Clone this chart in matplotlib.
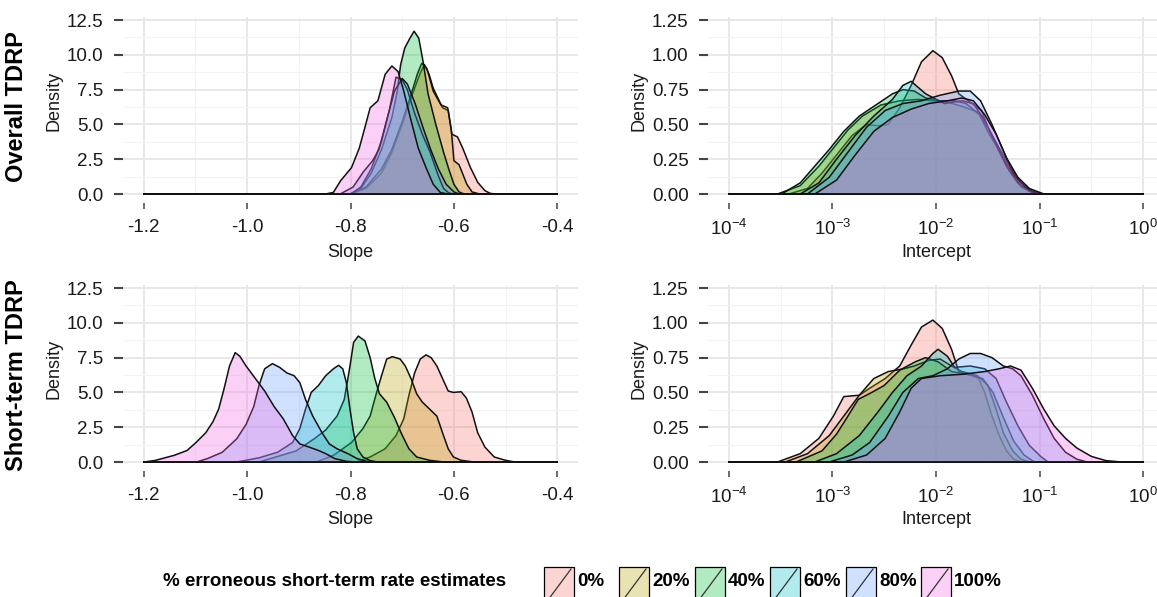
import matplotlib
matplotlib.use('Agg')
import matplotlib.pyplot as plt
from matplotlib.patches import Rectangle
from matplotlib.lines import Line2D
from matplotlib.colors import to_rgba
from matplotlib.ticker import FixedLocator, FixedFormatter, NullFormatter
from matplotlib import font_manager
import numpy as np

# ---------------- data ----------------
groups = ['0%', '20%', '40%', '60%', '80%', '100%']
colors = ['#F8766D', '#B79F00', '#00BA38', '#00BFC4', '#619CFF', '#F564E3']
legend_title = '% erroneous short-term rate estimates'
row_titles = ['Overall TDRP', 'Short-term TDRP']

slope_range = [-1.2, -0.4]
slope_ticks = [-1.2, -1.0, -0.8, -0.6, -0.4]
slope_yticks = [0.0, 2.5, 5.0, 7.5, 10.0, 12.5]
log_int_range = [-4, 0]
log_int_ticks = [-4, -3, -2, -1, 0]
int_yticks = [0.00, 0.25, 0.50, 0.75, 1.00, 1.25]

# Overall TDRP - slope densities (x, density)
overall_slope_x = [
    [-0.80, -0.77, -0.74, -0.72, -0.70, -0.68, -0.665, -0.657, -0.648, -0.64, -0.622, -0.611, -0.604, -0.593, -0.583, -0.568, -0.554, -0.540, -0.530, -0.520],
    [-0.80, -0.77, -0.74, -0.72, -0.70, -0.68, -0.67, -0.662, -0.652, -0.64, -0.625, -0.612, -0.605, -0.60, -0.59, -0.575, -0.565, -0.55],
    [-0.80, -0.78, -0.76, -0.74, -0.72, -0.71, -0.703, -0.695, -0.685, -0.677, -0.668, -0.66, -0.65, -0.635, -0.62, -0.61, -0.60, -0.59, -0.58],
    [-0.80, -0.78, -0.76, -0.74, -0.725, -0.712, -0.70, -0.69, -0.676, -0.66, -0.647, -0.63, -0.62, -0.61, -0.60],
    [-0.82, -0.795, -0.775, -0.757, -0.745, -0.73, -0.715, -0.70, -0.69, -0.675, -0.66, -0.645, -0.63, -0.615, -0.60, -0.59],
    [-0.848, -0.833, -0.819, -0.798, -0.783, -0.772, -0.762, -0.747, -0.733, -0.72, -0.708, -0.697, -0.683, -0.669, -0.654, -0.64, -0.626, -0.611],
]
overall_slope_y = [
    [0, 0.4, 1.5, 3.0, 5.0, 7.2, 8.7, 9.3, 8.6, 7.6, 6.2, 6.0, 4.3, 4.1, 3.3, 1.9, 0.84, 0.24, 0.05, 0],
    [0, 0.5, 1.8, 3.2, 5.2, 7.5, 8.7, 9.4, 9.0, 7.4, 6.4, 6.2, 4.6, 2.4, 2.1, 0.7, 0.15, 0],
    [0, 0.4, 1.5, 3.2, 5.5, 7.3, 9.3, 10.5, 11.2, 11.7, 11.2, 9.6, 7.2, 5.0, 3.0, 1.8, 0.7, 0.15, 0],
    [0, 0.5, 1.8, 3.8, 6.0, 8.4, 8.2, 7.5, 5.8, 4.2, 3.1, 1.3, 0.4, 0.08, 0],
    [0, 0.5, 1.6, 2.4, 3.2, 5.3, 7.4, 8.3, 7.9, 6.5, 4.8, 3.2, 1.8, 0.7, 0.15, 0],
    [0, 0.12, 0.96, 1.9, 3.3, 4.8, 6.2, 6.7, 8.6, 9.2, 8.8, 7.4, 5.3, 3.3, 1.9, 0.7, 0.1, 0],
]

# Short-term TDRP - slope densities
short_slope_x = [
    [-0.790, -0.762, -0.733, -0.712, -0.697, -0.687, -0.676, -0.665, -0.654, -0.644, -0.633, -0.622, -0.611, -0.601, -0.586, -0.576, -0.565, -0.554, -0.540, -0.522, -0.500, -0.482],
    [-0.866, -0.833, -0.798, -0.776, -0.762, -0.751, -0.740, -0.730, -0.719, -0.704, -0.694, -0.683, -0.672, -0.661, -0.647, -0.633, -0.622, -0.611, -0.601, -0.586, -0.561],
    [-0.977, -0.905, -0.869, -0.848, -0.826, -0.812, -0.801, -0.794, -0.785, -0.772, -0.762, -0.753, -0.744, -0.730, -0.715, -0.701, -0.687, -0.672, -0.647, -0.619],
    [-1.02, -0.977, -0.941, -0.912, -0.898, -0.887, -0.876, -0.862, -0.848, -0.833, -0.823, -0.815, -0.808, -0.801, -0.794, -0.787, -0.776, -0.762, -0.747],
    [-1.098, -1.077, -1.048, -1.020, -1.002, -0.987, -0.977, -0.966, -0.951, -0.937, -0.923, -0.909, -0.898, -0.887, -0.873, -0.855, -0.841, -0.826, -0.805, -0.787, -0.769, -0.755],
    [-1.199, -1.177, -1.141, -1.116, -1.098, -1.080, -1.066, -1.055, -1.045, -1.034, -1.023, -1.014, -1.002, -0.984, -0.966, -0.948, -0.930, -0.912, -0.898, -0.880, -0.862, -0.848, -0.830, -0.808, -0.790],
]
short_slope_y = [
    [0, 0.36, 0.95, 1.9, 3.1, 4.8, 6.4, 7.4, 7.7, 7.5, 6.9, 6.0, 5.1, 5.0, 5.05, 4.6, 3.6, 2.1, 1.07, 0.36, 0.12, 0],
    [0, 0.48, 1.4, 2.4, 3.3, 4.8, 6.2, 7.4, 7.57, 7.4, 6.9, 6.0, 4.9, 4.3, 3.8, 3.3, 2.1, 0.95, 0.36, 0.12, 0],
    [0, 0.8, 1.7, 2.3, 3.3, 4.5, 6.9, 8.6, 9.05, 8.7, 7.5, 6.0, 4.9, 4.3, 3.2, 2.0, 0.95, 0.36, 0.12, 0],
    [0, 0.3, 0.7, 1.4, 2.4, 3.8, 5.0, 5.5, 6.2, 6.7, 6.95, 6.7, 5.7, 3.8, 2.1, 0.95, 0.36, 0.1, 0],
    [0, 0.24, 0.7, 1.67, 2.7, 4.0, 5.5, 6.7, 7.07, 6.8, 6.4, 6.2, 5.7, 4.5, 3.3, 2.1, 1.3, 0.95, 0.6, 0.24, 0.05, 0],
    [0, 0.12, 0.48, 0.83, 1.43, 2.1, 2.9, 3.8, 5.2, 6.9, 7.86, 7.6, 6.9, 6.0, 5.1, 4.0, 3.1, 1.9, 1.3, 1.07, 0.83, 0.6, 0.24, 0.05, 0],
]

# Overall TDRP - intercept densities (x given as log10 of intercept)
overall_int_log10x = [
    [-3.42, -3.24, -3.10, -2.96, -2.81, -2.67, -2.56, -2.46, -2.35, -2.24, -2.14, -2.03, -1.94, -1.85, -1.78, -1.67, -1.56, -1.50, -1.39, -1.28, -1.18, -1.07, -1.0],
    [-3.53, -3.31, -3.13, -2.99, -2.85, -2.71, -2.53, -2.35, -2.17, -2.03, -1.89, -1.75, -1.60, -1.50, -1.39, -1.28, -1.18, -1.07, -0.96],
    [-3.49, -3.31, -3.17, -3.03, -2.89, -2.74, -2.60, -2.42, -2.32, -2.21, -2.10, -1.96, -1.82, -1.71, -1.58, -1.50, -1.39, -1.28, -1.18, -1.07, -1.0],
    [-3.31, -3.13, -2.96, -2.78, -2.60, -2.42, -2.32, -2.24, -2.10, -1.92, -1.75, -1.64, -1.53, -1.42, -1.32, -1.21, -1.10, -1.0],
    [-3.24, -3.03, -2.85, -2.67, -2.49, -2.32, -2.14, -1.96, -1.78, -1.67, -1.57, -1.46, -1.35, -1.25, -1.14, -1.03],
    [-3.17, -2.96, -2.78, -2.60, -2.42, -2.24, -2.07, -1.89, -1.75, -1.64, -1.53, -1.42, -1.32, -1.21, -1.10, -0.96],
]
overall_int_y = [
    [0, 0.04, 0.15, 0.28, 0.42, 0.5, 0.49, 0.5, 0.62, 0.78, 0.95, 1.03, 0.98, 0.85, 0.72, 0.66, 0.6, 0.48, 0.3, 0.15, 0.05, 0.01, 0],
    [0, 0.06, 0.2, 0.33, 0.46, 0.56, 0.64, 0.67, 0.68, 0.67, 0.66, 0.63, 0.59, 0.48, 0.33, 0.19, 0.08, 0.02, 0],
    [0, 0.08, 0.2, 0.32, 0.45, 0.56, 0.63, 0.72, 0.75, 0.74, 0.69, 0.67, 0.67, 0.65, 0.57, 0.45, 0.31, 0.17, 0.06, 0.01, 0],
    [0, 0.08, 0.25, 0.42, 0.56, 0.68, 0.78, 0.81, 0.72, 0.65, 0.67, 0.65, 0.53, 0.36, 0.2, 0.08, 0.02, 0],
    [0, 0.12, 0.3, 0.48, 0.6, 0.65, 0.67, 0.71, 0.74, 0.74, 0.67, 0.5, 0.31, 0.14, 0.05, 0],
    [0, 0.1, 0.28, 0.45, 0.55, 0.61, 0.65, 0.67, 0.69, 0.67, 0.57, 0.43, 0.26, 0.12, 0.04, 0],
]

# Short-term TDRP - intercept densities (log10 x)
short_int_log10x = [
    [-3.53, -3.31, -3.13, -2.99, -2.89, -2.74, -2.64, -2.49, -2.35, -2.24, -2.14, -2.03, -1.94, -1.85, -1.78, -1.67, -1.59, -1.53, -1.46, -1.39, -1.32, -1.25, -1.18],
    [-3.455, -3.24, -3.03, -2.89, -2.74, -2.60, -2.46, -2.31, -2.21, -2.07, -1.96, -1.85, -1.75, -1.60, -1.50, -1.42, -1.35, -1.26, -1.18, -1.10],
    [-3.35, -3.10, -2.96, -2.85, -2.75, -2.62, -2.50, -2.35, -2.20, -2.10, -1.98, -1.85, -1.70, -1.55, -1.45, -1.35, -1.25, -1.15, -1.05],
    [-3.17, -2.96, -2.74, -2.56, -2.42, -2.28, -2.14, -2.03, -1.98, -1.89, -1.82, -1.67, -1.53, -1.42, -1.32, -1.21, -1.10, -0.99, -0.92],
    [-3.03, -2.81, -2.64, -2.46, -2.32, -2.17, -2.03, -1.89, -1.78, -1.67, -1.57, -1.46, -1.35, -1.26, -1.18, -1.07, -0.96, -0.86, -0.75, -0.64, -0.54],
    [-2.89, -2.67, -2.49, -2.35, -2.24, -2.14, -1.96, -1.75, -1.53, -1.39, -1.28, -1.18, -1.07, -0.96, -0.86, -0.75, -0.64, -0.50, -0.36, -0.21],
]
short_int_y = [
    [0, 0.06, 0.17, 0.33, 0.47, 0.48, 0.53, 0.6, 0.69, 0.84, 0.97, 1.02, 0.96, 0.81, 0.65, 0.63, 0.6, 0.5, 0.33, 0.19, 0.08, 0.02, 0],
    [0, 0.06, 0.19, 0.33, 0.48, 0.6, 0.65, 0.67, 0.69, 0.73, 0.74, 0.69, 0.65, 0.62, 0.55, 0.38, 0.21, 0.08, 0.02, 0],
    [0, 0.08, 0.2, 0.33, 0.45, 0.5, 0.55, 0.66, 0.72, 0.75, 0.72, 0.65, 0.63, 0.6, 0.5, 0.32, 0.15, 0.05, 0],
    [0, 0.06, 0.19, 0.36, 0.5, 0.62, 0.69, 0.78, 0.81, 0.76, 0.68, 0.69, 0.67, 0.6, 0.43, 0.26, 0.12, 0.04, 0],
    [0, 0.05, 0.14, 0.33, 0.5, 0.6, 0.62, 0.67, 0.74, 0.78, 0.78, 0.75, 0.69, 0.67, 0.62, 0.48, 0.31, 0.17, 0.07, 0.02, 0],
    [0, 0.05, 0.17, 0.36, 0.53, 0.6, 0.62, 0.63, 0.65, 0.67, 0.69, 0.66, 0.53, 0.38, 0.26, 0.17, 0.1, 0.04, 0.01, 0],
]

# ---------------- style ----------------
W, H = 1157, 597
FONT = 'Liberation Sans'
plt.rcParams['font.family'] = [FONT, 'DejaVu Sans']
plt.rcParams['mathtext.default'] = 'regular'
FILL_ALPHA = 0.3
TICK_FS = 13.5
LABEL_FS = 13
TEXT_COL = '#1a1a1a'

fig = plt.figure(figsize=(W / 100, H / 100), dpi=100)


def px_axes(left, top, right, bottom):
    return fig.add_axes([left / W, 1 - bottom / H, (right - left) / W, (bottom - top) / H])


def style_axes(ax):
    for s in ax.spines.values():
        s.set_visible(False)
    ax.spines['bottom'].set_position(('outward', 5.8))
    ax.set_axisbelow(True)
    ax.grid(which='major', color='#E6E6E6', lw=1.3)
    ax.grid(which='minor', color='#F3F3F3', lw=0.8)
    ax.tick_params(axis='x', which='major', length=4.5, width=1.1, color='#444444',
                   pad=6.5, labelsize=TICK_FS, labelcolor=TEXT_COL)
    ax.tick_params(axis='y', which='major', length=6.5, width=1.5, color='#444444',
                   pad=7.5, labelsize=TICK_FS, labelcolor=TEXT_COL)
    ax.tick_params(which='minor', length=0)


def draw_densities(ax, xs_list, ys_list, lo, hi, logx=False):
    for i, (xs, ys) in enumerate(zip(xs_list, ys_list)):
        xx = np.array([lo] + list(xs) + [hi], dtype=float)
        yy = np.array([0] + list(ys) + [0], dtype=float)
        if logx:
            xx = 10 ** xx
        ax.fill(xx, yy, facecolor=to_rgba(colors[i], FILL_ALPHA), edgecolor='#111111',
                lw=1.1, joinstyle='round', zorder=2 + i * 0.01)


rows_top = [17, 285]
row_h = 178.4
for r in range(2):
    top = rows_top[r]
    bot = top + row_h
    # slope panel
    axL = px_axes(123, top, 578, bot)
    style_axes(axL)
    sx = overall_slope_x if r == 0 else short_slope_x
    sy = overall_slope_y if r == 0 else short_slope_y
    draw_densities(axL, sx, sy, slope_range[0], slope_range[1])
    axL.set_xlim(-1.24, -0.36)
    axL.set_ylim(-0.1, 12.72)
    axL.set_xticks(slope_ticks)
    axL.set_xticklabels([f'{t:.1f}' for t in slope_ticks])
    axL.set_yticks(slope_yticks)
    axL.set_yticklabels([f'{t:.1f}' for t in slope_yticks])
    axL.xaxis.set_minor_locator(FixedLocator([-1.1, -0.9, -0.7, -0.5]))
    axL.yaxis.set_minor_locator(FixedLocator([1.25, 3.75, 6.25, 8.75, 11.25]))

    # intercept panel
    axR = px_axes(708, top, 1164, bot)
    style_axes(axR)
    ix = overall_int_log10x if r == 0 else short_int_log10x
    iy = overall_int_y if r == 0 else short_int_y
    draw_densities(axR, ix, iy, log_int_range[0], log_int_range[1], logx=True)
    axR.set_xscale('log')
    axR.set_xlim(10 ** -4.2, 10 ** 0.2)
    axR.set_ylim(-0.01, 1.272)
    axR.xaxis.set_major_locator(FixedLocator([10.0 ** k for k in log_int_ticks]))
    axR.xaxis.set_major_formatter(FixedFormatter([f'$10^{{{k}}}$' for k in log_int_ticks]))
    axR.xaxis.set_minor_locator(FixedLocator([10.0 ** (k + 0.5) for k in range(-4, 0)]))
    axR.xaxis.set_minor_formatter(NullFormatter())
    axR.set_yticks(int_yticks)
    axR.set_yticklabels([f'{t:.2f}' for t in int_yticks])
    axR.yaxis.set_minor_locator(FixedLocator([0.125, 0.375, 0.625, 0.875, 1.125]))

    # axis titles
    fig.text(350 / W, 1 - (top + 235) / H, 'Slope', ha='center', va='center',
             fontsize=LABEL_FS, color=TEXT_COL)
    fig.text(936 / W, 1 - (top + 235) / H, 'Intercept', ha='center', va='center',
             fontsize=LABEL_FS, color=TEXT_COL)
    fig.text(54 / W, 1 - (top + 84) / H, 'Density', rotation=90, ha='center', va='center',
             fontsize=LABEL_FS, color=TEXT_COL)
    fig.text(639 / W, 1 - (top + 84) / H, 'Density', rotation=90, ha='center', va='center',
             fontsize=LABEL_FS, color=TEXT_COL)
    fig.text(17 / W, 1 - (top + 90) / H, row_titles[r], rotation=90, ha='center', va='center',
             fontsize=17, fontweight='bold', color='black')

# ---------------- legend ----------------
names = {f.name for f in font_manager.fontManager.ttflist}
narrow = 'Liberation Sans Narrow' if 'Liberation Sans Narrow' in names else FONT
leg_y = 581
t = fig.text(163 / W, 1 - leg_y / H, legend_title, ha='left', va='center',
             fontsize=12.5, fontweight='bold', family=[narrow, 'DejaVu Sans'], color='black')
fig.canvas.draw()
bb = t.get_window_extent()
target_w = 345.0
t.set_fontsize(12.5 * target_w / bb.width)

key_left = [544, 619, 695, 770, 846, 921]
key_w = 30
key_top = 567
for i, g in enumerate(groups):
    x0 = key_left[i]
    rect = Rectangle((x0 / W, 1 - 600 / H), key_w / W, (600 - key_top) / H,
                     transform=fig.transFigure, facecolor=to_rgba(colors[i], FILL_ALPHA),
                     edgecolor='black', lw=0.9, clip_on=False)
    fig.add_artist(rect)
    fig.add_artist(Line2D([(x0 + 4) / W, (x0 + key_w - 3) / W], [1 - 600 / H, 1 - (key_top + 2) / H],
                          transform=fig.transFigure, color='#333333', lw=0.9))
    lt = fig.text((x0 + key_w + 3) / W, 1 - leg_y / H, g, ha='left', va='center',
                  fontsize=12.5, fontweight='bold', family=[narrow, 'DejaVu Sans'], color='black')
    if narrow == FONT:
        lt.set_fontsize(12.5 * target_w / bb.width)

fig.savefig('out.png', dpi=100)
